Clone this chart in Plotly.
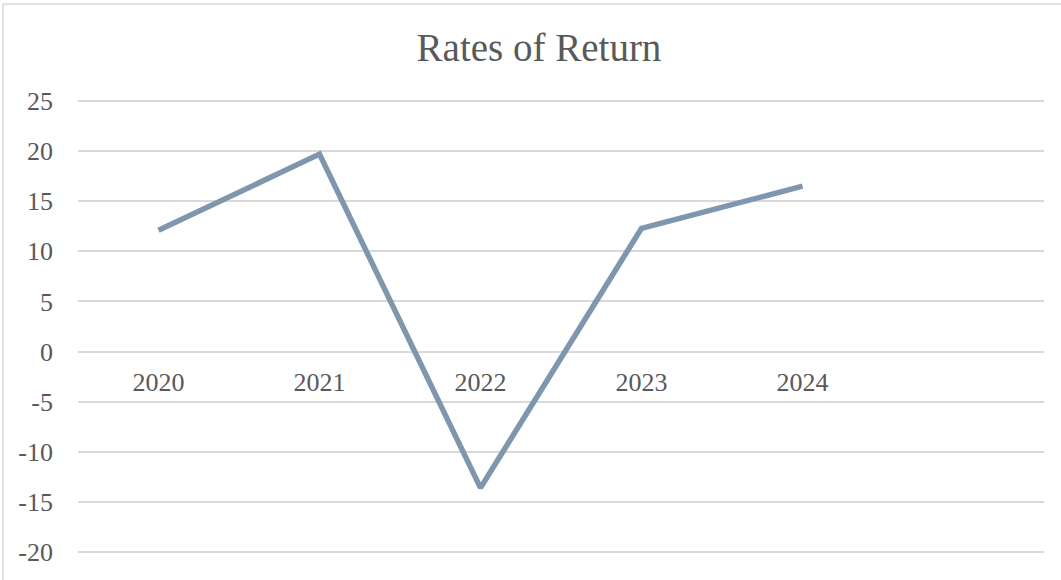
import plotly.graph_objects as go

years = ["2020", "2021", "2022", "2023", "2024"]
returns = [12.1, 19.7, -13.6, 12.3, 16.5]
y_ticks = [-20, -15, -10, -5, 0, 5, 10, 15, 20, 25]
y_labels = [str(v) for v in y_ticks]

FONT = "Liberation Serif"
TXT = "#595959"

fig = go.Figure()
fig.add_trace(go.Scatter(
    x=list(range(len(years))), y=returns, mode="lines",
    line=dict(color="#7f97ae", width=5.5),
    showlegend=False, hoverinfo="skip",
))

W, H = 1061, 580
L, R, T, B = 78, W - 1044, 96, H - 557
ymin, ymax = -20.5, 25.5
zero_frac = (0 - ymin) / (ymax - ymin)

fig.update_layout(
    width=W, height=H,
    margin=dict(l=L, r=R, t=T, b=B, autoexpand=False),
    paper_bgcolor="white", plot_bgcolor="white",
    title=dict(text="Rates of Return", x=0.508, xanchor="center",
               y=1 - 47 / H, yanchor="middle",
               font=dict(family=FONT, size=39, color=TXT)),
    xaxis=dict(
        range=[-0.5, 5.5], tickmode="array",
        tickvals=list(range(len(years))), ticktext=years,
        showgrid=False, zeroline=False, showline=False,
        ticks="", anchor="free", position=zero_frac, automargin=False,
        tickfont=dict(family=FONT, size=26, color=TXT),
        ticklabelstandoff=12,
    ),
    yaxis=dict(
        range=[ymin, ymax], tickmode="array", tickvals=y_ticks,
        ticktext=y_labels, automargin=False,
        showgrid=True, gridcolor="#d9d9d9", gridwidth=1.5,
        zeroline=False, showline=False, ticks="",
        tickfont=dict(family=FONT, size=26, color=TXT),
        ticklabelstandoff=24,
    ),
)

pw = 1044 - 78
ph = 557 - 96
fig.add_shape(type="line", xref="paper", yref="paper",
              x0=(3 - L) / pw, x1=(W + 5 - L) / pw,
              y0=(557 - 4) / ph, y1=(557 - 4) / ph,
              line=dict(color="#d9d9d9", width=1.5))
fig.add_shape(type="line", xref="paper", yref="paper",
              x0=(3 - L) / pw, x1=(3 - L) / pw,
              y0=(557 - 4) / ph, y1=(557 - H - 5) / ph,
              line=dict(color="#d9d9d9", width=1.5))

fig.write_html("out.html", config={"displayModeBar": False},
               post_script="document.body.style.margin='0';")
